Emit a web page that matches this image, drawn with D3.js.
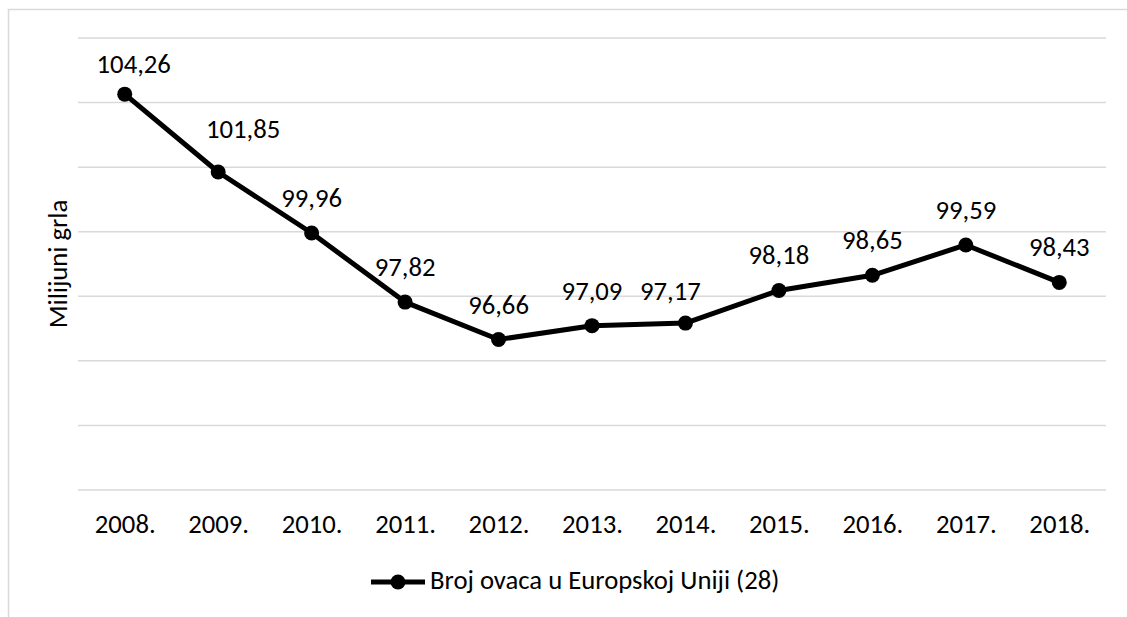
<!DOCTYPE html>
<html>
<head>
<meta charset="utf-8">
<script src="https://cdn.jsdelivr.net/npm/d3@7"></script>
<style>
  body { margin: 0; background: #fff; }
  text { font-family: Calibri, Carlito, Lato, sans-serif; fill: #000; }
</style>
</head>
<body>
<svg id="chart" width="1127" height="617"></svg>
<script>
// podaci
var years = ["2008.", "2009.", "2010.", "2011.", "2012.", "2013.", "2014.", "2015.", "2016.", "2017.", "2018."];
var sheep = [104.26, 101.85, 99.96, 97.82, 96.66, 97.09, 97.17, 98.18, 98.65, 99.59, 98.43];
var yTicks = [92, 94, 96, 98, 100, 102, 104, 106];
var seriesName = "Broj ovaca u Europskoj Uniji (28)";
var axisTitle = "Milijuni grla";

// rucno pomaknute oznake (kao u izvorniku)
var labelShift = { "2008.": [9, 5], "2009.": [25, -8], "2014.": [-15, 3] };

var svg = d3.select("#chart");
var fontSize = 26.7;

// okvir
svg.append("rect")
    .attr("x", 8.5).attr("y", 9.5)
    .attr("width", 1200).attr("height", 700)
    .attr("fill", "none")
    .attr("stroke", "#d9d9d9")
    .attr("stroke-width", 1.5);

var x = d3.scalePoint().domain(years).range([78, 1106]).padding(0.5);
var y = d3.scaleLinear().domain([92, 106]).range([490, 38]);

// mreza
svg.append("g")
    .selectAll("line.grid")
    .data(yTicks)
    .join("line")
    .classed("grid", true)
    .attr("x1", 78).attr("x2", 1106)
    .attr("y1", d => y(d)).attr("y2", d => y(d))
    .attr("stroke", "#d9d9d9")
    .attr("stroke-width", 1.5);

// x os
var xAxis = svg.append("g")
    .attr("transform", "translate(0,490)")
    .call(d3.axisBottom(x).tickSize(0).tickPadding(24));
xAxis.select(".domain").remove();
xAxis.selectAll("text")
    .style("font-size", fontSize + "px")
    .attr("fill", "#000");

// naslov y osi
svg.append("text")
    .attr("transform", "translate(67,264) rotate(-90)")
    .attr("text-anchor", "middle")
    .style("font-size", fontSize + "px")
    .text(axisTitle);

var pts = years.map((d, i) => ({ year: d, value: sheep[i] }));

var line = d3.line()
    .x(d => x(d.year))
    .y(d => y(d.value));

svg.append("path")
    .datum(pts)
    .attr("d", line)
    .attr("fill", "none")
    .attr("stroke", "#000")
    .attr("stroke-width", 5)
    .attr("stroke-linejoin", "round");

svg.append("g")
    .selectAll("circle.node")
    .data(pts)
    .join("circle")
    .classed("node", true)
    .attr("cx", d => x(d.year))
    .attr("cy", d => y(d.value))
    .attr("r", 7.5)
    .attr("fill", "#000");

svg.append("g")
    .selectAll("text.label")
    .data(pts)
    .join("text")
    .classed("label", true)
    .attr("text-anchor", "middle")
    .attr("x", d => x(d.year) + (labelShift[d.year] ? labelShift[d.year][0] : 0))
    .attr("y", d => y(d.value) - 26 + (labelShift[d.year] ? labelShift[d.year][1] : 0))
    .style("font-size", fontSize + "px")
    .text(d => d3.format(".2f")(d.value).replace(".", ","));

// legenda
var lg = svg.append("g").attr("transform", "translate(371,582)");
lg.append("line")
    .attr("x1", 0).attr("x2", 54)
    .attr("stroke", "#000").attr("stroke-width", 5);
lg.append("circle").attr("cx", 27).attr("r", 7.5).attr("fill", "#000");
lg.append("text")
    .attr("x", 59).attr("y", 7)
    .style("font-size", fontSize + "px")
    .text(seriesName);
</script>
</body>
</html>
